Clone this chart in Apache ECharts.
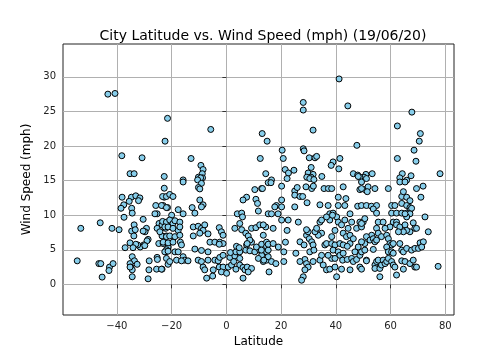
<!DOCTYPE html>
<html>
<head>
<meta charset="utf-8">
<script src="https://cdn.jsdelivr.net/npm/echarts@6.0.0/dist/echarts.min.js"></script>
<style>
html,body{margin:0;padding:0;background:#fff}
#main{width:504px;height:360px}
</style>
</head>
<body>
<div id="main"></div>
<script>
// latitude of each city
var lats = [
-43.3,-40.7,-21.5,-22.4,-38.2,-30.8,-35.2,-33.7,-22.7,
-5.7,13.1,14.9,-12.9,-9.3,-8.5,-8.8,-10.2,-8.7,12.4,14.4,-15.8,
41.2,28.1,28.1,44.4,31.7,47.7,20.4,20.8,28.1,28.4,30.3,32.4,33.0,41.5,39.0,38.3,41.1,31.0,21.5,22.7,24.7,29.9,31.7,34.9,30.9,29.4,46.4,48.0,51.0,50.3,48.8,16.5,22.2,
67.8,62.5,70.9,70.5,68.6,62.5,69.3,78.1,53.3,64.3,67.5,63.4,
-22.7,-38.1,-34.7,-33.1,-31.6,-32.1,-35.5,-37.5,-38.5,-34.6,-34.4,-37.4,-30.4,-22.7,-23.1,-25.8,-25.3,-26.1,-21.5,-24.6,-53.2,-46.1,-41.8,-39.2,-33.7,-34.6,-33.3,-33.8,-29.2,-29.7,-30.4,-25.3,-23.5,-22.2,-21.5,-23.5,-21.9,-28.6,-29.0,-30.2,-31.5,-32.4,-33.1,-35.2,-37.0,-34.1,-29.8,-24.7,-23.1,-22.1,-21.3,-21.9,-54.5,-46.6,-45.9,-42.7,-42.9,-41.4,-45.4,-34.4,-33.6,-35.2,-32.6,-34.9,-34.4,-34.4,-35.2,-28.6,-28.2,-28.3,-25.3,-25.2,-25.5,-23.5,-21.3,
-15.8,-9.4,-10.5,-9.1,-10.2,-9.7,-23.3,-21.9,-20.7,-19.5,-23.7,-21.9,-20.0,-17.6,-15.8,-9.7,-8.5,-9.1,-12.5,-11.5,-23.3,-21.9,-20.7,-19.5,-18.8,-17.0,-22.5,-21.3,-19.5,-17.6,-17.0,-24.3,-21.9,-20.7,-18.8,-17.0,-16.8,-16.4,-23.1,-21.3,-19.5,-22.5,-21.3,-18.8,-17.6,-21.9,-20.7,-18.2,-15.8,-15.2,-14.0,-16.4,-23.7,
-12.1,-10.3,-9.1,-7.9,-8.5,-6.7,-9.7,-12.1,-11.5,-9.1,-6.7,-6.0,-4.2,-2.6,-1.8,-1.2,-2.4,-1.2,-2.6,
-10.3,-9.1,-8.5,-7.9,-7.2,-5.0,-4.8,-6.7,-4.2,-3.0,-2.4,-1.2,-2.6,-1.2,-1.8,0.1,0.7,1.9,1.3,3.1,2.7,4.9,4.9,3.5,6.1,6.8,7.6,9.2,8.0,6.1,
1.5,3.5,4.9,7.1,8.6,10.4,12.2,14.7,12.9,11.7,13.5,14.7,
3.7,4.7,7.4,9.2,11.0,12.9,14.7,15.3,
4.0,5.6,5.9,4.9,3.1,5.6,7.1,8.0,9.2,10.8,12.2,14.4,8.6,7.6,
10.4,12.9,15.3,10.8,7.4,6.1,11.4,11.7,15.3,
30.5,32.0,16.3,20.2,13.2,25.0,25.9,25.0,26.9,27.9,29.1,31.2,31.8,35.7,37.3,38.5,42.7,48.2,49.4,48.8,50.6,51.8,51.2,
20.2,18.3,17.7,20.2,18.9,16.5,25.0,29.5,34.2,37.2,40.9,43.7,40.9,43.3,48.0,
20.2,22.6,26.3,34.2,37.8,39.0,40.3,37.8,43.3,45.2,48.8,39.7,
13.5,17.1,13.5,14.7,15.3,17.1,19.0,12.8,15.3,13.7,16.5,18.1,15.6,21.6,21.0,22.2,21.0,25.4,
26.9,28.4,29.3,30.3,31.2,31.7,30.5,32.0,28.7,29.3,29.9,28.7,28.1,27.5,26.9,31.7,34.2,34.8,35.4,36.6,37.8,38.5,39.7,37.2,36.0,36.6,38.5,39.7,41.5,42.7,38.5,39.0,40.9,41.5,42.7,42.5,44.2,45.8,46.4,47.6,48.8,49.4,47.0,48.2,45.2,50.6,51.2,48.8,45.2,40.3,42.1,39.7,34.8,33.6,32.4,33.0,29.9,29.3,34.8,36.6,38.8,40.9,42.1,42.7,43.9,44.5,45.8,47.6,49.4,50.0,45.2,46.4,44.2,
63.4,65.9,65.3,49.4,51.5,54.3,59.2,69.5,71.9,71.1,64.1,64.7,65.9,67.1,64.1,65.9,67.1,67.1,67.7,
49.4,51.2,53.0,54.9,53.7,54.9,60.4,61.6,60.4,62.2,64.1,65.9,67.1,65.9,65.3,
50.6,49.4,55.5,57.3,61.0,62.2,59.8,62.2,63.4,65.3,68.3,72.6,68.9,67.1,65.9,64.7,62.9,73.8,69.5,
54.9,58.0,55.5,53.1,51.2,49.4,52.5,53.7,54.3,54.9,56.7,58.6,59.2,59.8,60.4,61.0,58.6,59.2,60.4,61.0,50.6,53.7,63.4,64.1,64.7,65.9,67.7,68.9,70.2,70.8,72.0,71.4,
51.2,49.4,54.3,54.9,55.5,54.3,56.1,56.7,57.3,58.0,58.6,59.2,60.4,61.0,61.6,56.1,62.2,64.1,64.7,65.3,67.1,68.3,68.9,69.5,77.4
];
// wind speed (mph), same order as lats
var winds = [
27.5,27.6,24.0,20.7,18.6,18.3,16.0,16.0,15.6,
22.4,21.8,20.7,18.2,17.2,16.6,16.0,15.5,15.4,18.2,16.0,15.1,
29.7,26.3,25.2,25.8,22.3,20.1,19.4,18.2,19.6,19.3,18.3,18.3,18.5,18.2,17.7,17.2,16.7,16.9,16.6,16.1,16.5,16.1,15.9,15.6,15.5,15.5,16.0,15.8,15.9,15.5,15.5,15.1,15.3,
24.9,22.9,21.8,20.7,19.4,18.2,17.8,16.0,16.0,16.0,15.7,15.4,
13.9,12.6,12.6,12.8,12.5,12.1,12.0,11.5,11.0,11.0,10.3,9.7,9.4,12.6,11.4,11.4,10.2,10.2,11.1,8.8,8.1,8.9,8.1,7.9,8.6,7.7,7.9,7.0,8.1,7.6,7.7,8.1,8.6,8.1,8.6,7.0,7.0,6.5,6.3,5.7,5.4,5.7,5.8,6.0,5.3,5.3,5.6,5.9,5.9,4.7,5.4,5.0,3.4,3.0,3.0,2.5,2.0,3.0,1.05,4.0,3.4,3.0,2.9,2.5,2.1,1.1,2.5,0.8,3.4,2.1,3.9,3.6,2.2,2.2,2.9,
14.8,15.4,15.1,14.6,14.0,13.8,12.7,12.7,13.0,12.7,11.4,11.1,10.0,10.8,10.2,12.2,11.5,11.2,11.1,10.3,9.1,9.0,9.3,8.8,9.2,9.0,8.3,8.3,8.1,7.8,8.3,7.6,6.9,7.0,6.9,7.1,6.1,5.7,6.1,6.0,6.1,4.7,4.8,4.7,4.7,3.75,3.3,3.5,4.0,3.5,3.4,3.4,2.2,
8.3,8.4,8.1,8.6,7.8,7.3,7.4,7.0,5.1,4.9,4.7,6.1,6.1,8.2,7.6,7.1,6.1,5.9,5.8,
3.5,3.3,2.5,2.1,0.9,1.2,2.1,3.5,3.5,3.4,3.9,4.2,2.5,2.5,1.8,1.6,2.5,2.8,3.9,4.1,3.3,3.75,2.8,2.2,2.45,2.1,2.5,2.3,1.8,0.9,
4.6,4.7,4.7,4.95,4.85,4.7,4.95,4.7,4.2,3.75,3.3,3.5,
5.5,5.3,5.7,6.1,5.4,5.8,5.5,4.95,
10.2,10.3,9.75,8.8,8.1,7.9,7.4,7.0,8.1,8.2,8.6,8.3,6.4,5.9,
13.7,13.85,14.7,12.3,12.6,12.2,11.7,10.6,10.2,
15.3,15.15,14.7,14.2,13.85,13.5,14.0,12.9,12.7,12.7,14.1,13.85,14.2,13.85,13.85,13.85,14.1,15.6,14.8,13.7,13.7,14.1,15.3,
12.2,11.4,11.2,11.2,10.2,10.2,11.2,11.8,11.5,11.4,12.6,12.4,11.4,11.4,11.3,
9.3,9.3,9.0,9.0,10.2,10.3,9.75,9.3,9.3,10.2,9.0,7.8,
8.6,8.1,7.1,6.1,5.8,5.9,5.4,4.95,4.0,3.5,3.3,3.0,1.8,6.1,4.7,7.8,3.3,4.5,
6.15,5.7,7.1,6.6,6.15,5.7,4.7,4.95,3.6,3.0,2.5,2.1,1.1,0.6,3.3,3.3,3.5,4.2,2.8,2.1,2.2,3.75,3.75,4.2,5.7,5.9,5.9,5.7,5.9,5.7,6.9,4.95,4.7,4.2,4.5,3.5,3.6,3.75,3.3,3.6,4.2,4.7,4.7,5.4,5.9,5.9,3.5,2.5,2.1,1.1,2.2,2.5,7.4,7.1,7.6,8.1,7.6,7.9,9.3,9.75,10.0,9.0,8.6,7.4,6.9,8.1,9.0,8.1,8.3,9.0,7.1,6.6,5.5,
14.8,15.05,14.8,13.85,13.4,13.85,13.85,13.85,14.2,12.6,12.7,13.4,12.6,12.1,11.7,11.4,11.1,10.7,11.0,
11.4,11.4,11.3,11.4,10.9,10.3,11.4,11.4,10.3,10.3,10.3,10.3,10.2,9.75,10.2,
9.5,8.8,9.0,9.0,9.0,9.0,8.3,8.6,8.3,8.6,8.9,9.75,8.1,7.6,7.8,7.6,7.6,7.6,8.1,
8.1,8.1,7.4,7.1,6.9,6.15,6.4,6.6,6.15,6.4,6.9,7.1,6.6,5.9,5.7,5.9,5.4,4.7,4.7,4.5,4.95,5.05,5.9,4.95,4.7,5.2,4.95,5.2,5.2,6.0,6.15,5.4,
3.4,2.2,2.8,3.3,3.5,2.3,2.3,2.8,3.5,3.0,3.3,3.75,3.3,2.8,2.5,1.1,1.35,3.4,2.2,3.3,3.0,3.5,2.5,2.5,2.6
];
var xTicks = [-40, -20, 0, 20, 40, 60, 80];
var yTicks = [0, 5, 10, 15, 20, 25, 30];

var pts = [];
for (var i = 0; i < lats.length; i++) {
    pts.push([lats[i], winds[i]]);
}

var chart = echarts.init(document.getElementById('main'), null, {renderer: 'canvas'});
var font = 'DejaVu Sans';
var option = {
    animation: false,
    backgroundColor: '#fff',
    title: {
        text: 'City Latitude vs. Wind Speed (mph) (19/06/20)',
        left: 258,
        textAlign: 'center',
        top: 24,
        textStyle: {fontFamily: font, fontSize: 14, fontWeight: 'normal', color: '#000'}
    },
    grid: {
        left: 63, right: 50, top: 44, bottom: 45,
        show: true, borderColor: '#222', borderWidth: 1, backgroundColor: 'transparent'
    },
    xAxis: {
        type: 'value',
        min: -59.7, max: 83.2,
        name: 'Latitude',
        nameLocation: 'middle',
        nameGap: 20,
        nameTextStyle: {fontFamily: font, fontSize: 12, color: '#000'},
        axisLine: {show: false},
        axisTick: {show: true, length: 4, customValues: xTicks, lineStyle: {color: '#333'}},
        axisLabel: {
            customValues: xTicks, margin: 6,
            fontFamily: font, fontSize: 10, color: '#222',
            formatter: function (v) { return String(v).replace('-', '\u2212'); }
        },
        splitLine: {show: true, lineStyle: {color: '#b0b0b0', width: 1}}
    },
    yAxis: {
        type: 'value',
        min: -4.43, max: 34.75,
        name: 'Wind Speed (mph)',
        nameLocation: 'middle',
        nameGap: 23,
        nameTextStyle: {fontFamily: font, fontSize: 12, color: '#000'},
        axisLine: {show: false},
        axisTick: {show: true, length: 4, customValues: yTicks, lineStyle: {color: '#333'}},
        axisLabel: {
            customValues: yTicks, margin: 7,
            fontFamily: font, fontSize: 10, color: '#222'
        },
        splitLine: {show: true, lineStyle: {color: '#b0b0b0', width: 1}}
    },
    series: [{
        type: 'scatter',
        data: pts,
        symbolSize: 6,
        itemStyle: {color: '#87CEEB', borderColor: '#000', borderWidth: 1, opacity: 1},
        emphasis: {disabled: true}
    }]
};
chart.setOption(option);
</script>
</body>
</html>
